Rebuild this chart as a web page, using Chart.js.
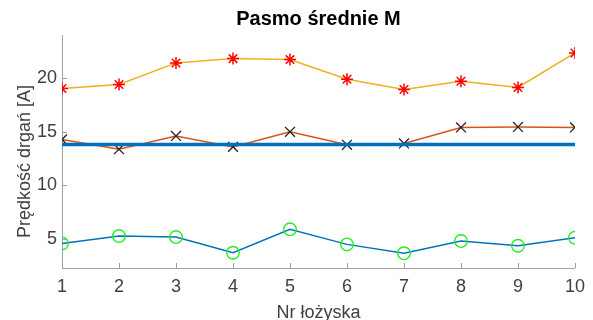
<!DOCTYPE html>
<html>
<head>
<meta charset="utf-8">
<script src="https://cdn.jsdelivr.net/npm/chart.js@4"></script>
<style>
  body { margin: 0; background: #fff; }
  #wrap { width: 593px; height: 320px; }
</style>
</head>
<body>
<div id="wrap"><canvas id="chart" width="593" height="320"></canvas></div>
<script>
// bearing numbers (x axis)
const bearings = [1, 2, 3, 4, 5, 6, 7, 8, 9, 10];

// series
const lowBand  = [4.58, 5.27, 5.18, 3.72, 5.90, 4.50, 3.67, 4.81, 4.37, 5.12];
const midBand  = [14.27, 13.37, 14.60, 13.58, 14.98, 13.77, 13.90, 15.39, 15.44, 15.39];
const highBand = [19.01, 19.39, 21.40, 21.80, 21.71, 19.88, 18.92, 19.69, 19.11, 22.33];

// horizontal reference level
const refX = [1, 10];
const refY = [13.8, 13.8];

const toPts = (xs, ys) => xs.map((x, i) => ({ x: x, y: ys[i] }));

// MATLAB-style tick marks pointing into the plot
const innerTicks = {
    id: 'innerTicks',
    afterDraw(chart) {
        const ctx = chart.ctx;
        const area = chart.chartArea;
        const xs = chart.scales.x, ys = chart.scales.y;
        ctx.save();
        ctx.strokeStyle = '#a0a0a0';
        ctx.lineWidth = 1;
        ctx.beginPath();
        xs.ticks.forEach(t => {
            const px = Math.round(xs.getPixelForValue(t.value)) + 0.5;
            ctx.moveTo(px, area.bottom);
            ctx.lineTo(px, area.bottom - 5);
        });
        ys.ticks.forEach(t => {
            const py = Math.round(ys.getPixelForValue(t.value)) + 0.5;
            ctx.moveTo(area.left, py);
            ctx.lineTo(area.left + 5, py);
        });
        ctx.stroke();
        ctx.restore();
    }
};

const ctx = document.getElementById('chart').getContext('2d');
new Chart(ctx, {
    type: 'line',
    data: {
        datasets: [
            {
                data: toPts(refX, refY),
                borderColor: '#0072BD',
                borderWidth: 3.5,
                pointRadius: 0,
                order: 1
            },
            {
                data: toPts(bearings, lowBand),
                borderColor: '#0072BD',
                borderWidth: 1.5,
                pointStyle: 'circle',
                pointRadius: 6.3,
                pointBorderWidth: 1.4,
                pointBorderColor: '#22ee22',
                pointBackgroundColor: 'rgba(0,0,0,0)',
                order: 2
            },
            {
                data: toPts(bearings, midBand),
                borderColor: '#D95319',
                borderWidth: 1.5,
                pointStyle: 'crossRot',
                pointRadius: 7,
                pointBorderWidth: 1.3,
                pointBorderColor: '#222222',
                order: 3
            },
            {
                data: toPts(bearings, highBand),
                borderColor: '#EDB120',
                borderWidth: 1.5,
                pointStyle: 'star',
                pointRadius: 6,
                pointBorderWidth: 1.5,
                pointBorderColor: '#ff0000',
                order: 2
            }
        ]
    },
    options: {
        responsive: false,
        animation: false,
        layout: { padding: { right: 18 } },
        plugins: {
            legend: { display: false },
            tooltip: { enabled: false },
            title: {
                display: true,
                fullSize: false,
                text: 'Pasmo średnie M',
                color: '#000',
                font: { family: 'Liberation Sans', size: 20, weight: 'bold' },
                padding: { top: 7, bottom: 4 }
            }
        },
        scales: {
            x: {
                type: 'linear',
                min: 1,
                max: 10,
                afterFit: (s) => { s.height = 52; },
                ticks: {
                    stepSize: 1,
                    color: '#404040',
                    padding: 8,
                    font: { family: 'Liberation Sans', size: 18 }
                },
                grid: { display: false, drawTicks: false },
                border: { display: true, color: '#a0a0a0' },
                title: {
                    display: true,
                    text: 'Nr łożyska',
                    color: '#404040',
                    font: { family: 'Liberation Sans', size: 18 },
                    padding: { top: 0, bottom: -4 }
                }
            },
            y: {
                min: 2.3,
                max: 24,
                afterFit: (s) => { s.width = 62; },
                ticks: {
                    stepSize: 5,
                    includeBounds: false,
                    color: '#404040',
                    padding: 5,
                    font: { family: 'Liberation Sans', size: 18 }
                },
                grid: { display: false, drawTicks: false },
                border: { display: true, color: '#a0a0a0' },
                title: {
                    display: true,
                    text: 'Prędkość drgań [A]    ',
                    color: '#404040',
                    font: { family: 'Liberation Sans', size: 18 },
                    padding: { top: 14, bottom: 0 }
                }
            }
        }
    },
    plugins: [innerTicks]
});
</script>
</body>
</html>
